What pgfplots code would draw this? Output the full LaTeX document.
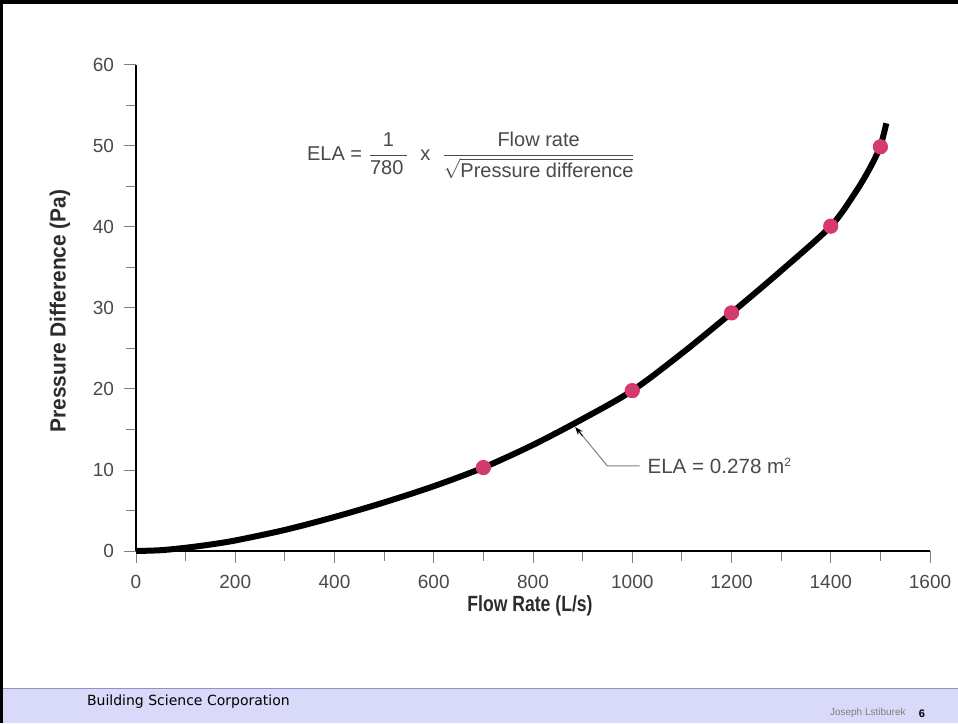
\documentclass[border=0pt]{standalone}
\usepackage{fontspec}
\setmainfont{Liberation Sans}
\newfontfamily\condfont[FakeStretch=0.8]{Liberation Sans}
\newfontfamily\condfontb[FakeStretch=0.95]{Liberation Sans}
\newfontfamily\verdfont{DejaVu Sans}
\usepackage{pgfplots}
\pgfplotsset{compat=1.18}
\usetikzlibrary{arrows.meta}
\definecolor{footband}{HTML}{D9D9F9}
\definecolor{footline}{HTML}{9090C8}
\definecolor{markcol}{HTML}{D43A6C}
\definecolor{txtgray}{HTML}{4A4A4A}
\begin{document}
\begin{tikzpicture}
\path[use as bounding box] (0,0) rectangle (479pt,361.5pt);
\fill[white] (0,0) rectangle (479pt,361.5pt);
% footer
\fill[footband] (0,0) rectangle (479pt,17.5pt);
\draw[footline, line width=0.5pt] (0,17.5pt) -- (479pt,17.5pt);
\node[anchor=west, font=\verdfont\fontsize{7}{8}\selectfont, text=black] at (40pt,10.5pt) {Building Science Corporation};
\node[anchor=east, font=\fontsize{5}{6}\selectfont, text=gray, inner sep=0pt] at (453pt,4.8pt) {Joseph Lstiburek};
\node[anchor=center, font=\fontsize{5.5}{6}\selectfont\bfseries, text=black, inner sep=0pt] at (461pt,4.8pt) {6};
% borders
\fill[black] (0,359.5pt) rectangle (479pt,361.5pt);
\fill[black] (0,0) rectangle (1.5pt,361.5pt);
% axis labels
\node[font=\condfont\bfseries\fontsize{11}{12}\selectfont, text=txtgray!60!black] at (265pt,58.5pt) {Flow Rate (L/s)};
\node[font=\condfontb\bfseries\fontsize{11}{12}\selectfont, text=txtgray!60!black, rotate=90] at (30pt,206pt) {Pressure Difference (Pa)};
\begin{axis}[
  at={(68pt,86pt)}, anchor=south west,
  width=397pt, height=243pt, scale only axis,
  xmin=0, xmax=1600, ymin=0, ymax=60,
  axis lines*=left,
  axis line style={black, line width=0.9pt},
  xtick={0,200,...,1600}, ytick={0,10,...,60},
  minor x tick num=1, minor y tick num=1,
  tick align=outside,
  major tick length=6pt, minor tick length=5pt,
  tick style={gray, line width=0.5pt},
  /pgf/number format/assume math mode=true,
  /pgf/number format/1000 sep={},
  tick label style={font=\fontsize{9.5}{10}\selectfont, text=txtgray},
  xticklabel style={yshift=-2.5pt},
  yticklabel style={xshift=-1.5pt},
  clip=false,
]
\addplot[black, line width=3pt, smooth, tension=0.5] coordinates {
 (0,0) (50,0.1) (100,0.4) (150,0.8) (200,1.3) (300,2.6) (400,4.2) (500,6.0) (600,8.0) (700,10.3)
 (800,13.1) (900,16.3) (1000,19.8) (1100,24.4) (1200,29.4) (1300,34.6) (1400,40.1)
 (1450,44.3) (1480,47.4) (1500,50.0) (1512,52.8)
};
\addplot[only marks, mark=*, mark size=3.6pt, mark options={fill=markcol, draw=markcol}] coordinates {
 (700,10.3) (1000,19.8) (1200,29.4) (1400,40.1) (1500,49.9)
};
% formula
\node[text=txtgray, font=\fontsize{10}{11}\selectfont, inner sep=0pt] at (axis cs:676,48.8)
 {ELA = $\displaystyle\frac{\mbox{1}}{\mbox{780\,}}$\ \ x\ \ $\displaystyle\frac{\mbox{Flow rate}}{\sqrt{\mbox{Pressure difference}}}$};
% annotation
\draw[gray, line width=0.5pt] (axis cs:1015,10.5) -- (axis cs:950,10.5) -- (axis cs:892,14.8);
\draw[-{Stealth[length=4pt,width=3pt]}, black, line width=0.5pt] (axis cs:900,14.2) -- (axis cs:885,15.3);
\node[anchor=west, text=txtgray, font=\fontsize{10.3}{11}\selectfont, inner sep=0pt] at (axis cs:1030,10.5) {ELA = 0.278 m$^{\mbox{\fontsize{6}{6}\selectfont 2}}$};
\end{axis}
\end{tikzpicture}
\end{document}
